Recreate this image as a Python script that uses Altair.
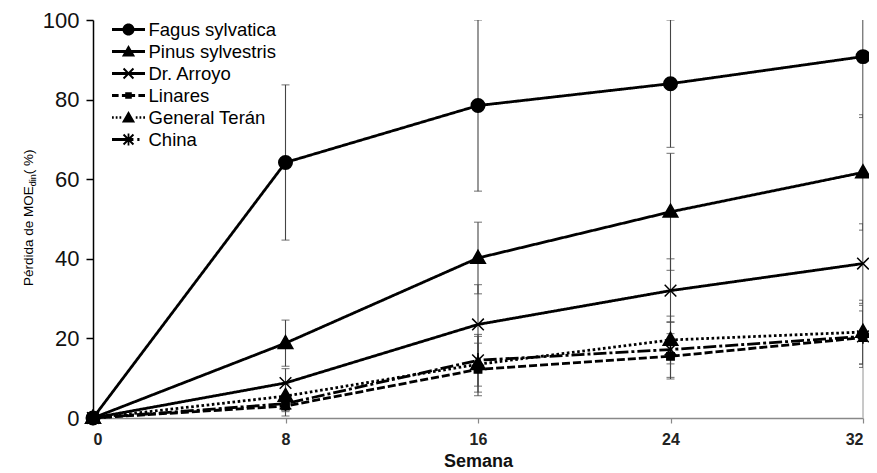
import altair as alt
import pandas as pd

# ---------------- data ----------------
weeks = [0, 8, 16, 24, 32]
series = ["Fagus sylvatica", "Pinus sylvestris", "Dr. Arroyo", "Linares", "General Terán", "China"]

fagus = [0, 64.2, 78.5, 84.0, 90.8]
fagus_err = [0, 19.5, 21.5, 16.0, 15.3]
pinus = [0, 18.8, 40.2, 51.8, 61.7]
pinus_err = [0, 5.8, 9.0, 14.7, 14.5]
arroyo = [0, 8.8, 23.5, 32.0, 38.8]
arroyo_err = [0, 3.6, 10.0, 8.0, 10.0]
linares = [0, 3.0, 12.2, 15.5, 20.2]
linares_err = [0, 2.5, 6.6, 5.7, 6.7]
teran = [0, 5.5, 13.5, 19.6, 21.6]
teran_err = [0, 3.0, 7.0, 6.0, 8.0]
china = [0, 3.6, 14.5, 17.2, 20.5]
china_err = [0, 2.0, 6.5, 7.0, 7.8]

values = [fagus, pinus, arroyo, linares, teran, china]
errors = [fagus_err, pinus_err, arroyo_err, linares_err, teran_err, china_err]

rows = []
for s, vals, errs in zip(series, values, errors):
    for w, v, e in zip(weeks, vals, errs):
        rows.append({"Serie": s, "Semana": w, "v": v, "err": e, "lo": v - e, "hi": v + e})
df = pd.DataFrame(rows)

# ---------------- styles ----------------
dashes = [[1, 0], [1, 0], [1, 0], [8, 3], [2.6, 2.6], [13, 3, 3, 3]]

# marker paths for the plotted points (stroked + filled)
circle_p = "M1.1,0A1.1,1.1,0,1,1,-1.1,0A1.1,1.1,0,1,1,1.1,0Z"
tri_p = "M0,-1.25L1.2,0.85L-1.2,0.85Z"
x_p = "M-0.95,-0.95L0.95,0.95M-0.95,0.95L0.95,-0.95"
sq_p = "M-0.6,-0.6H0.6V0.6H-0.6Z"
star_p = x_p + "M0,-1.2V1.2"
point_shapes = [circle_p, tri_p, x_p, sq_p, tri_p, star_p]


# legend symbols: line sample + marker, drawn as filled outlines only
def hseg(x1, x2, t=0.13):
    return f"M{x1},{-t}H{x2}V{t}H{x1}Z"


def xcross(a=0.45, hw=0.09):
    d = round(hw / 1.4142, 3)
    p1 = f"M{-a + d},{-a - d}L{a + d},{a - d}L{a - d},{a + d}L{-a - d},{-a + d}Z"
    p2 = f"M{-a - d},{a - d}L{a - d},{-a - d}L{a + d},{-a + d}L{-a + d},{a + d}Z"
    return p1 + p2


lg_circle = "M0.55,0A0.55,0.55,0,1,1,-0.55,0A0.55,0.55,0,1,1,0.55,0Z"
lg_tri = "M0,-0.6L0.6,0.45L-0.6,0.45Z"
lg_sq = "M-0.3,-0.3H0.3V0.3H-0.3Z"
vbar = "M-0.08,-0.55H0.08V0.55H-0.08Z"
full = hseg(-1.5, 1.5)
dots = "".join(hseg(a, b, 0.12) for a, b in [(-1.5, -1.34), (-1.16, -1.0), (-0.82, -0.66),
                                               (0.66, 0.82), (1.0, 1.16), (1.34, 1.5)])
legend_shapes = [
    full + lg_circle,
    full + lg_tri,
    full + xcross(),
    hseg(-1.5, -0.9) + hseg(-0.6, 0.6) + hseg(0.9, 1.5) + lg_sq,
    dots + lg_tri,
    hseg(-1.5, 0.45) + hseg(0.8, 1.0) + xcross() + vbar,
]
black6 = ["black"] * len(series)

FONT = "Liberation Sans"

x_enc = alt.X(
    "Semana:Q",
    scale=alt.Scale(domain=[0, 32], nice=False, zero=False),
    axis=alt.Axis(
        values=weeks, title="Semana", grid=False,
        domainColor="#888", domainWidth=1.5, tickColor="#888", tickWidth=1.2, tickSize=5,
        labelFont=FONT, labelFontSize=16, labelFontWeight="bold", labelColor="#222", labelPadding=8,
        titleFont=FONT, titleFontSize=18, titleFontWeight="bold", titleColor="#111", titlePadding=5,
    ),
)
y_scale = alt.Scale(domain=[0, 100], nice=False)
y_axis = alt.Axis(
    values=[0, 20, 40, 60, 80, 100], title=None, grid=False,
    domainColor="black", domainWidth=1.5, tickColor="black", tickWidth=1.5, tickSize=7,
    labelFont=FONT, labelFontSize=22, labelColor="#111", labelPadding=7,
)

base = alt.Chart(df)

border = base.mark_rule(color="#c8c8c8", strokeWidth=1).encode(x=alt.datum(32))

err_df = base.transform_filter("datum.err > 0")
err_rule = err_df.mark_rule(color="#444", strokeWidth=1.1, clip=True).encode(
    x=x_enc, y=alt.Y("lo:Q", scale=y_scale, axis=y_axis), y2="hi:Q", detail="Serie:N"
)
cap_lo = err_df.mark_tick(color="#444", thickness=1.1, size=8, orient="horizontal", clip=True).encode(
    x=x_enc, y=alt.Y("lo:Q", scale=y_scale), detail="Serie:N"
)
cap_hi = err_df.mark_tick(color="#444", thickness=1.1, size=8, orient="horizontal", clip=True).encode(
    x=x_enc, y=alt.Y("hi:Q", scale=y_scale), detail="Serie:N"
)

lines = base.mark_line(color="black", strokeWidth=2.8).encode(
    x=x_enc,
    y=alt.Y("v:Q", scale=y_scale, axis=y_axis),
    strokeDash=alt.StrokeDash("Serie:N", scale=alt.Scale(domain=series, range=dashes), legend=None),
    order="Semana:Q",
)

points = base.mark_point(filled=True, fill="black", stroke="black", strokeWidth=1.5, size=150, opacity=1).encode(
    x=x_enc,
    y=alt.Y("v:Q", scale=y_scale),
    shape=alt.Shape("Serie:N", scale=alt.Scale(domain=series, range=point_shapes), legend=None),
)

lg = alt.Legend(
    orient="none", legendX=24.5, legendY=-1.5, title=None, padding=0,
    symbolSize=484, symbolStrokeWidth=0, symbolOpacity=1, symbolOffset=0,
    labelFont=FONT, labelFontSize=18.5, labelColor="black", labelOffset=9,
    rowPadding=1,
)
legend_df = pd.DataFrame({"Serie": series, "Semana": [0] * len(series), "v": [-50] * len(series)})
legend_layer = alt.Chart(legend_df).mark_point(
    filled=True, strokeWidth=0, opacity=1, clip=True
).encode(
    x=x_enc,
    y=alt.Y("v:Q", scale=y_scale),
    shape=alt.Shape("Serie:N", scale=alt.Scale(domain=series, range=legend_shapes), sort=series, legend=lg),
    fill=alt.Fill("Serie:N", scale=alt.Scale(domain=series, range=black6), sort=series, legend=lg),
)

# y-axis title with subscript
t_style = dict(angle=270, align="left", baseline="alphabetic", font=FONT, color="black")
yt1 = alt.Chart(pd.DataFrame({"t": ["Pérdida de MOE"]})).mark_text(fontSize=13.5, **t_style).encode(
    text="t:N", x=alt.value(-60), y=alt.value(266)
)
yt2 = alt.Chart(pd.DataFrame({"t": ["din"]})).mark_text(fontSize=9, **t_style).encode(
    text="t:N", x=alt.value(-57), y=alt.value(166.2)
)
yt3 = alt.Chart(pd.DataFrame({"t": [" ( %)"]})).mark_text(fontSize=13.5, **t_style).encode(
    text="t:N", x=alt.value(-60), y=alt.value(154.2)
)

chart = (
    alt.layer(border, err_rule, cap_lo, cap_hi, lines, points, legend_layer, yt1, yt2, yt3)
    .resolve_scale(shape="independent")
    .properties(
        width=770, height=398, autosize="none",
        padding={"left": 85, "top": 12, "right": 6, "bottom": 54},
        background="white",
    )
    .configure_view(stroke=None)
)

chart.save("out.html", embed_options={"renderer": "svg", "actions": False})
